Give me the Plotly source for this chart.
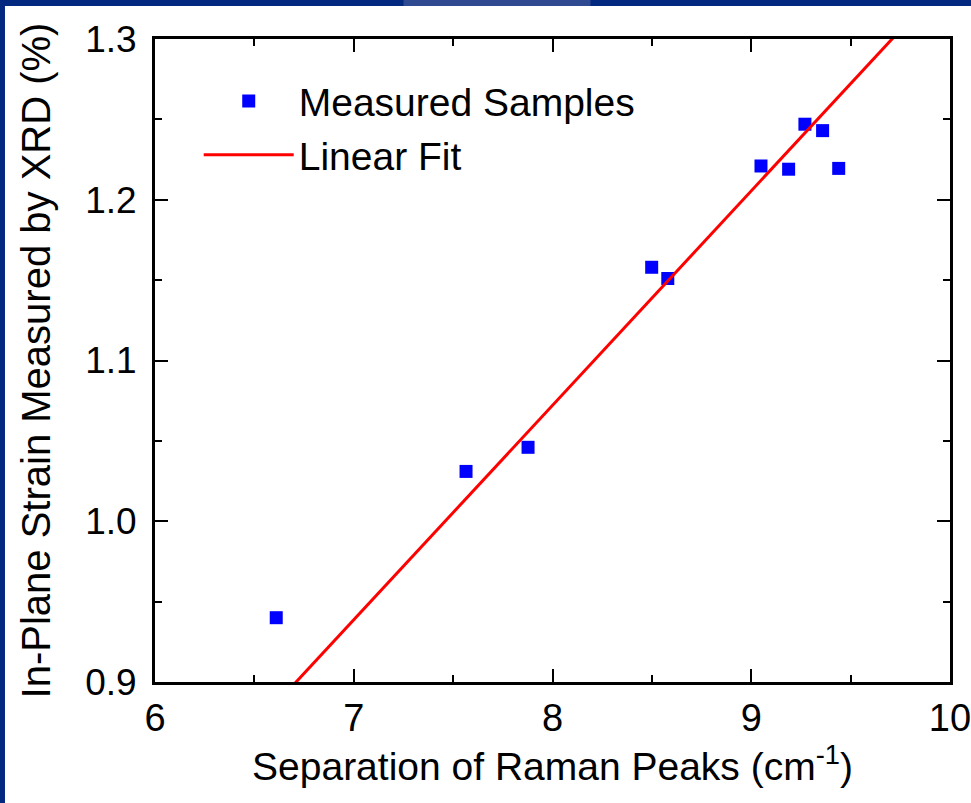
import plotly.graph_objects as go

# Data
raman_sep = [6.61, 7.565, 7.877, 8.499, 8.580, 9.049, 9.188, 9.270, 9.359, 9.440]
xrd_strain = [0.940, 1.031, 1.046, 1.158, 1.151, 1.221, 1.219, 1.247, 1.243, 1.2195]

# Linear fit parameters (strain = slope * sep + intercept)
fit_slope = 0.1334
fit_intercept = 0.0049
fit_x_range = [6.0, 10.0]
fit_y = [fit_slope * v + fit_intercept for v in fit_x_range]

x_ticks = [6, 7, 8, 9, 10]
y_ticks = [0.9, 1.0, 1.1, 1.2, 1.3]

FONT = "Liberation Sans, Arial, sans-serif"
NAVY = "#03287f"

fig = go.Figure()
fig.add_trace(go.Scatter(
    x=raman_sep, y=xrd_strain, mode="markers", name="Measured Samples",
    marker=dict(symbol="square", size=13, color="#0000ff", line=dict(width=0)),
))
fig.add_trace(go.Scatter(
    x=fit_x_range, y=fit_y, mode="lines", name="Linear Fit",
    line=dict(color="#ff0000", width=3),
))

axis_common = dict(
    showline=True, linecolor="black", linewidth=3, mirror="allticks",
    ticks="inside", ticklen=13, tickwidth=2, tickcolor="black",
    showgrid=False, zeroline=False, ticklabeloverflow="allow", automargin=False,
)

fig.update_xaxes(
    range=[6, 10], tickvals=x_ticks, ticktext=[str(v) for v in x_ticks],
    tickfont=dict(family=FONT, size=38, color="black"),
    minor=dict(ticks="inside", ticklen=7, tickwidth=2, tickcolor="black", dtick=0.5, showgrid=False),
    title=dict(text="Separation of Raman Peaks (cm<sup>-1</sup>)", font=dict(family=FONT, size=39, color="black"), standoff=8),
    **axis_common,
)
fig.update_yaxes(
    range=[0.9, 1.3], tickvals=y_ticks, ticktext=[f"{v:.1f}" for v in y_ticks],
    tickfont=dict(family=FONT, size=37, color="black"),
    ticklabelstandoff=8,
    minor=dict(ticks="inside", ticklen=7, tickwidth=2, tickcolor="black", dtick=0.05, showgrid=False),
    title=dict(text="In-Plane Strain Measured by XRD (%)", font=dict(family=FONT, size=40, color="black"), standoff=23),
    **axis_common,
)

# decorative navy frame (slide background)
fig.add_shape(type="rect", xref="paper", yref="paper", x0=-0.3, x1=1.1, y0=1.0513, y1=1.2,
              fillcolor=NAVY, line=dict(width=0), layer="below")
fig.add_shape(type="rect", xref="paper", yref="paper", x0=0.3126, x1=0.5478, y0=1.0513, y1=1.2,
              fillcolor="#2f4a91", line=dict(width=0), layer="below")
fig.add_shape(type="rect", xref="paper", yref="paper", x0=-0.3, x1=-0.1887, y0=-0.3, y1=1.2,
              fillcolor=NAVY, line=dict(width=0), layer="below")

fig.update_layout(
    width=971, height=803,
    margin=dict(l=155, r=21, t=39, b=121),
    paper_bgcolor="white", plot_bgcolor="white",
    showlegend=True,
    legend=dict(x=0.055, y=0.953, xanchor="left", yanchor="top",
                bgcolor="rgba(0,0,0,0)", font=dict(family=FONT, size=39, color="black"),
                itemwidth=90, tracegroupgap=0),
)

fig.write_html("out.html", config={"displayModeBar": False},
               post_script="document.body.style.margin='0';document.body.style.overflow='hidden';")
